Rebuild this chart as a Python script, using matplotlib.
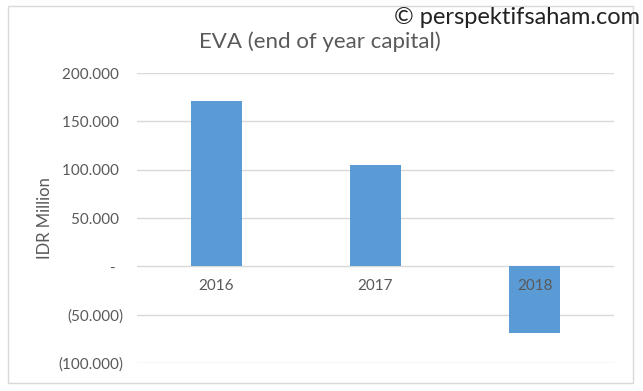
import matplotlib.pyplot as plt
from matplotlib.ticker import FuncFormatter
import numpy as np

years = ["2016", "2017", "2018"]
eva = [170800, 104600, -69200]
yticks = [-100000, -50000, 0, 50000, 100000, 150000, 200000]

plt.rcParams["font.family"] = ["Lato", "DejaVu Sans"]
grey = "#595959"


def acct(v, pos):
    # Excel accounting format, dot as thousand separator
    if v == 0:
        return "-  "
    s = f"{abs(v):,.0f}".replace(",", ".")
    return f"({s})" if v < 0 else s + " "


fig = plt.figure(figsize=(6.43, 3.91), dpi=100)
ax = fig.add_axes([0.213, 0.0716, 0.742, 0.7414])

x = np.arange(len(years))
ax.bar(x, eva, width=0.315, color="#5b9bd5", zorder=2)
ax.set_xlim(-0.5, len(years) - 0.5)
ax.set_ylim(-100000, 200000)
ax.set_yticks(yticks)
ax.yaxis.set_major_formatter(FuncFormatter(acct))
ax.tick_params(axis="y", length=0, labelsize=11, labelcolor=grey, pad=10)
ax.set_xticks([])
ax.grid(axis="y", color="#d9d9d9", linewidth=1, zorder=0)
for s in ax.spines.values():
    s.set_visible(False)

for xi, yr in zip(x, years):
    ax.annotate(yr, (xi, 0), xytext=(0, -9), textcoords="offset points",
                ha="center", va="top", fontsize=11, color=grey, zorder=3)

ax.set_ylabel("IDR Million", fontsize=12, color=grey)
ax.yaxis.set_label_coords(-0.176, 0.5)

fig.text(0.498, 0.893, "EVA (end of year capital)", ha="center", va="center",
         fontsize=16, color=grey)
fig.text(0.995, 0.955, "© perspektifsaham.com", ha="right", va="center",
         fontsize=17, color="#222222")

fig.patches.append(plt.Rectangle((0.012, 0.02), 0.972, 0.965, transform=fig.transFigure,
                                 fill=False, edgecolor="#d9d9d9", linewidth=1))

fig.savefig("out.png", dpi=100)
